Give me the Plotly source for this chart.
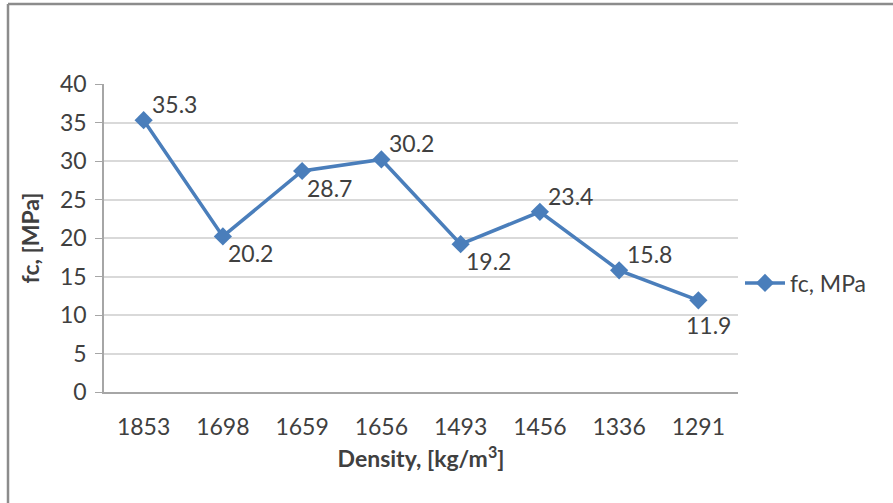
import plotly.graph_objects as go

density = ["1853", "1698", "1659", "1656", "1493", "1456", "1336", "1291"]
fc = [35.3, 20.2, 28.7, 30.2, 19.2, 23.4, 15.8, 11.9]
label_pos = ["ur", "br", "br", "ur", "br", "ur", "ur", "b"]
y_ticks = [0, 5, 10, 15, 20, 25, 30, 35, 40]

W, H = 893, 503
L, R, T, B = 104, 155, 84, 111
pw, ph = W - L - R, H - T - B

FONT = "Lato"
FS = 23
TXT = "#404040"
BLUE = "#4a7ebb"

fig = go.Figure()
fig.add_trace(go.Scatter(
    x=density, y=fc, mode="lines+markers", name="fc, MPa",
    line=dict(color=BLUE, width=3.5),
    marker=dict(symbol="diamond", size=14, color=BLUE),
))

offsets = {"ur": (6, 16, "left"), "br": (3, -17, "left"), "b": (10, -25, "center")}
for i, (y, p) in enumerate(zip(fc, label_pos)):
    dx, dy, anc = offsets[p]
    fig.add_annotation(x=i, y=y, xref="x", yref="y", text=f"{y:.1f}",
                       showarrow=False, xanchor=anc, yanchor="middle",
                       xshift=dx, yshift=dy,
                       font=dict(family=FONT, size=FS, color=TXT))

# chart border (top and left edges visible)
def px_x(p):
    return (p - L) / pw
def px_y(p):
    return (H - B - p) / ph

fig.add_shape(type="line", xref="paper", yref="paper",
              x0=px_x(8), x1=px_x(W + 5), y0=px_y(4), y1=px_y(4),
              line=dict(color="#8c8c8c", width=2.5))
fig.add_shape(type="line", xref="paper", yref="paper",
              x0=px_x(8), x1=px_x(8), y0=px_y(4), y1=px_y(H + 5),
              line=dict(color="#8c8c8c", width=2.5))

fig.update_layout(
    width=W, height=H,
    margin=dict(l=L, r=R, t=T, b=B),
    paper_bgcolor="white", plot_bgcolor="white",
    font=dict(family=FONT, size=FS, color=TXT),
    showlegend=True,
    legend=dict(x=px_x(740), y=px_y(283), xanchor="left", yanchor="middle",
                font=dict(family=FONT, size=FS, color=TXT),
                bgcolor="rgba(0,0,0,0)", itemwidth=40, tracegroupgap=0),
    xaxis=dict(
        type="category", showgrid=False, showline=True, linecolor="#a6a6a6",
        linewidth=1.5, ticks="", ticklabelstandoff=14,
        tickfont=dict(family=FONT, size=FS, color=TXT),
        title=dict(text="<b>Density, [kg/m<sup>3</sup>]</b>", standoff=12,
                   font=dict(family=FONT, size=FS, color=TXT)),
        range=[-0.5, 7.5],
    ),
    yaxis=dict(
        range=[0, 40], tickvals=y_ticks, showgrid=True, gridcolor="#d9d9d9",
        gridwidth=1.5, showline=True, linecolor="#a6a6a6", linewidth=1.5,
        ticks="outside", ticklen=7, tickcolor="#a6a6a6", ticklabelstandoff=4,
        tickfont=dict(family=FONT, size=FS, color=TXT), zeroline=False,
        title=dict(text="<b>fc, [MPa]</b>", standoff=14,
                   font=dict(family=FONT, size=FS, color=TXT)),
    ),
)

fig.write_html("out.html")
